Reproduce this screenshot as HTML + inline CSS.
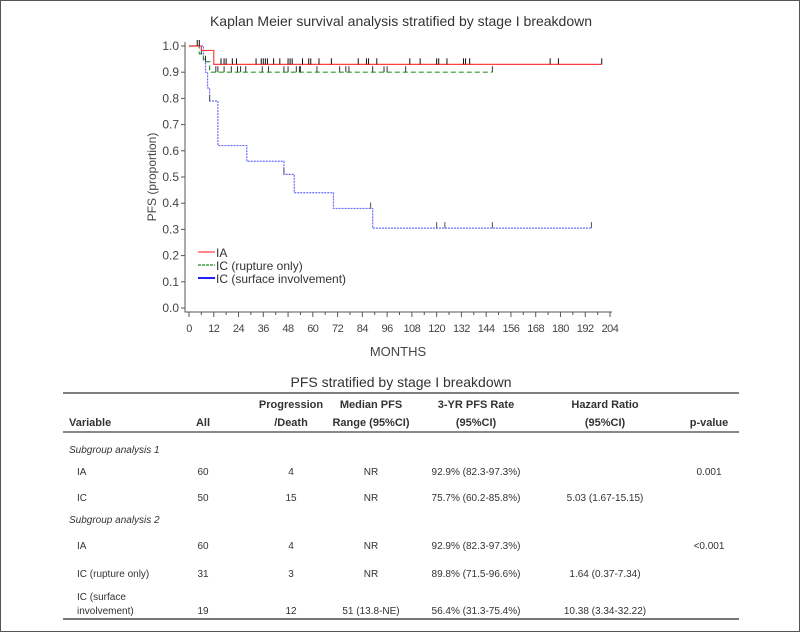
<!DOCTYPE html>
<html><head><meta charset="utf-8"><style>
html,body{margin:0;padding:0;background:#fff;}
#wrap{position:relative;width:798px;height:630px;border:1px solid #555;overflow:hidden;font-family:"Liberation Sans",sans-serif;}
svg text{font-family:"Liberation Sans",sans-serif;}
table{position:absolute;left:62px;top:392px;width:676px;border-collapse:collapse;font-size:10.5px;color:#222;}
</style></head><body>
<div id="wrap">
<svg id="chart" width="798" height="370" style="position:absolute;left:0;top:0"></svg>
<svg id="tbl" width="798" height="630" style="position:absolute;left:0;top:0">
<text x="400" y="386" text-anchor="middle" font-size="14" fill="#333">PFS stratified by stage I breakdown</text>
<line x1="62" y1="392" x2="738" y2="392" stroke="#333" stroke-width="1.2"/>
<line x1="62" y1="431" x2="738" y2="431" stroke="#888" stroke-width="2"/>
<line x1="62" y1="618" x2="738" y2="618" stroke="#777" stroke-width="2"/>
<g font-size="11" font-weight="bold" fill="#333">
<text x="68" y="425">Variable</text>
<text x="202" y="425" text-anchor="middle">All</text>
<text x="290" y="407" text-anchor="middle">Progression</text>
<text x="290" y="425" text-anchor="middle">/Death</text>
<text x="370" y="407" text-anchor="middle">Median PFS</text>
<text x="370" y="425" text-anchor="middle">Range (95%CI)</text>
<text x="475" y="407" text-anchor="middle">3-YR PFS Rate</text>
<text x="475" y="425" text-anchor="middle">(95%CI)</text>
<text x="604" y="407" text-anchor="middle">Hazard Ratio</text>
<text x="604" y="425" text-anchor="middle">(95%CI)</text>
<text x="708" y="425" text-anchor="middle">p-value</text>
</g>
<g font-size="10" fill="#333">
<text x="68" y="452" font-style="italic">Subgroup analysis 1</text>
<text x="76" y="474">IA</text><text x="202" y="474" text-anchor="middle">60</text><text x="290" y="474" text-anchor="middle">4</text><text x="370" y="474" text-anchor="middle">NR</text><text x="475" y="474" text-anchor="middle">92.9% (82.3-97.3%)</text><text x="708" y="474" text-anchor="middle">0.001</text>
<text x="76" y="500">IC</text><text x="202" y="500" text-anchor="middle">50</text><text x="290" y="500" text-anchor="middle">15</text><text x="370" y="500" text-anchor="middle">NR</text><text x="475" y="500" text-anchor="middle">75.7% (60.2-85.8%)</text><text x="604" y="500" text-anchor="middle">5.03 (1.67-15.15)</text>
<text x="68" y="522" font-style="italic">Subgroup analysis 2</text>
<text x="76" y="548">IA</text><text x="202" y="548" text-anchor="middle">60</text><text x="290" y="548" text-anchor="middle">4</text><text x="370" y="548" text-anchor="middle">NR</text><text x="475" y="548" text-anchor="middle">92.9% (82.3-97.3%)</text><text x="708" y="548" text-anchor="middle">&lt;0.001</text>
<text x="76" y="576">IC (rupture only)</text><text x="202" y="576" text-anchor="middle">31</text><text x="290" y="576" text-anchor="middle">3</text><text x="370" y="576" text-anchor="middle">NR</text><text x="475" y="576" text-anchor="middle">89.8% (71.5-96.6%)</text><text x="604" y="576" text-anchor="middle">1.64 (0.37-7.34)</text>
<text x="76" y="599">IC (surface</text>
<text x="76" y="613">involvement)</text><text x="202" y="613" text-anchor="middle">19</text><text x="290" y="613" text-anchor="middle">12</text><text x="370" y="613" text-anchor="middle">51 (13.8-NE)</text><text x="475" y="613" text-anchor="middle">56.4% (31.3-75.4%)</text><text x="604" y="613" text-anchor="middle">10.38 (3.34-32.22)</text>
</g>
</svg>
</div>
<script>
// step curves: [month, survival] points (value after each time)
const iaTimes=[0,6,12];
const iaSurv=[1.0,0.983,0.93];
const iaEnd=200;
const iaCensor=[4,5,15.5,17,18,21,23,32.5,35,36,37,38,41,44,48,49,50,55,58,59,63,69,82,86,87,91,107,112,120,121,125,133,134,136,175,179,200];
const rupTimes=[0,5,7,10];
const rupSurv=[1.0,0.97,0.94,0.90];
const rupEnd=147;
const rupCensor=[6,8,13,14,17,20.5,23.5,25,27.5,35.5,38.5,46,48,52,53.5,54,62,73,76,77.5,89,94.5,96,105,147];
const surfTimes=[0,7,8,9,10,14,28,46,51,70,89];
const surfSurv=[1.0,0.95,0.90,0.84,0.79,0.62,0.56,0.51,0.44,0.38,0.305];
const surfEnd=195;
const surfCensor=[10,46,88,120,124,147,195];
const xTicks=[0,12,24,36,48,60,72,84,96,108,120,132,144,156,168,180,192,204];
const yTicks=[0,0.1,0.2,0.3,0.4,0.5,0.6,0.7,0.8,0.9,1.0];

const NS="http://www.w3.org/2000/svg";
const svg=document.getElementById('chart');
const X=m=>188+m*(421/204);
const Y=v=>307-v*262;
function mk(tag,attrs,parent){const e=document.createElementNS(NS,tag);for(const k in attrs)e.setAttribute(k,attrs[k]);(parent||svg).appendChild(e);return e;}

let t=mk('text',{x:400,y:25,'text-anchor':'middle','font-size':14,fill:'#333'});t.textContent='Kaplan Meier survival analysis stratified by stage I breakdown';


let ax=mk('path',{d:`M184,${Y(1)-4} V311 H${X(204)+2}`,stroke:'#555',fill:'none','stroke-width':1});


yTicks.forEach(v=>{
  mk('line',{x1:180,x2:184,y1:Y(v),y2:Y(v),stroke:'#555'});
  const l=mk('text',{x:178,y:Y(v)+4,'text-anchor':'end','font-size':12,fill:'#444'});l.textContent=v.toFixed(1);
  
  
});
xTicks.forEach((m,i)=>{
  mk('line',{x1:X(m),x2:X(m),y1:311,y2:316,stroke:'#555'});
  if(i<xTicks.length-1)mk('line',{x1:X(m+6),x2:X(m+6),y1:311,y2:314,stroke:'#555'});
  const l=mk('text',{x:X(m),y:331,'text-anchor':'middle','font-size':11,fill:'#444','letter-spacing':'-0.5'});l.textContent=m;
  
  
});
let xt=mk('text',{x:397,y:355,'text-anchor':'middle','font-size':13,fill:'#444'});xt.textContent='MONTHS';


let yt=mk('text',{x:0,y:0,'text-anchor':'middle','font-size':12,fill:'#444',transform:'translate(155,176) rotate(-90)'});yt.textContent='PFS (proportion)';



function stepPath(times,surv,end){
  let d=`M${X(times[0])},${Y(surv[0])}`;
  for(let i=1;i<times.length;i++){d+=` H${X(times[i])} V${Y(surv[i])}`;}
  d+=` H${X(end)}`;return d;
}
function survAt(times,surv,m){let s=surv[0];for(let i=0;i<times.length;i++)if(times[i]<=m)s=surv[i];return s;}
function series(times,surv,end,censor,color,dash,name,tickColor){
  const p=mk('path',{d:stepPath(times,surv,end),stroke:color,fill:'none','stroke-width':1.2,'stroke-dasharray':dash});
  
  
  censor.forEach(m=>{
    const y=Y(survAt(times,surv,m));
    const c=mk('line',{x1:X(m),x2:X(m),y1:y-6,y2:y,stroke:tickColor,'stroke-width':1});
    
    
  });
}
series(surfTimes,surfSurv,surfEnd,surfCensor,'#6b6bff','2,1','surface-involvement','#555');
series(rupTimes,rupSurv,rupEnd,rupCensor,'#2a9a2a','5,3','rupture-only','#333');
series(iaTimes,iaSurv,iaEnd,iaCensor,'#ff4040','','ia','#111');

const leg=[['IA','#ff4040','',251],['IC (rupture only)','#1a8a1a','3,1',264],['IC (surface involvement)','#2020ff','',277]];
leg.forEach(([lab,c,d,y],i)=>{
  mk('line',{x1:197,x2:214,y1:y,y2:y,stroke:c,'stroke-width':i==2?2:1.2,'stroke-dasharray':d});
  const l=mk('text',{x:215,y:y+5,'font-size':12,fill:'#333'});l.textContent=lab;
  
  
});
</script>
</body></html>
